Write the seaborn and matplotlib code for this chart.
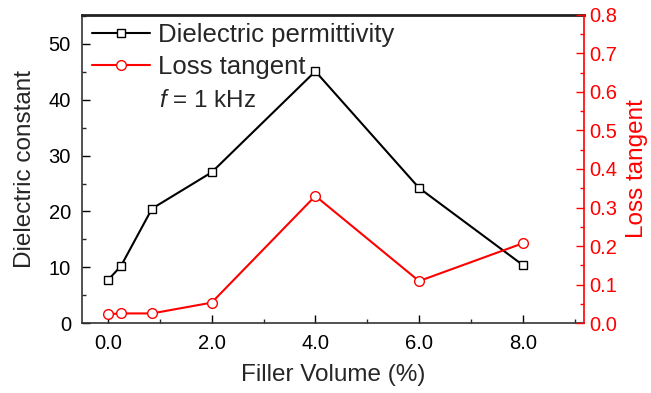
import matplotlib
matplotlib.use("Agg")
import matplotlib.pyplot as plt
import seaborn as sns
import pandas as pd
from matplotlib.ticker import MultipleLocator

filler = [0.0, 0.25, 0.85, 2.0, 4.0, 6.0, 8.0]
dielectric = [7.7, 10.2, 20.5, 27.0, 45.1, 24.2, 10.4]
loss = [0.023, 0.025, 0.025, 0.053, 0.330, 0.109, 0.207]

df = pd.DataFrame({"filler": filler, "dielectric": dielectric, "loss": loss})

sns.set_theme(style="ticks")
plt.rcParams["font.family"] = ["Liberation Sans", "DejaVu Sans"]
plt.rcParams["mathtext.fontset"] = "custom"
plt.rcParams["mathtext.it"] = "Liberation Sans:italic"
plt.rcParams["mathtext.rm"] = "Liberation Sans"

fig, ax = plt.subplots(figsize=(6.51, 3.93), dpi=100)
fig.subplots_adjust(left=0.126, right=0.897, top=0.962, bottom=0.178)
ax2 = ax.twinx()

sns.lineplot(data=df, x="filler", y="dielectric", ax=ax, color="black",
             marker="s", markersize=6, markerfacecolor="white",
             markeredgecolor="black", markeredgewidth=1.0, linewidth=1.5,
             label="Dielectric permittivity", legend=False)
sns.lineplot(data=df, x="filler", y="loss", ax=ax2, color="red",
             marker="o", markersize=7, markerfacecolor="white",
             markeredgecolor="red", markeredgewidth=1.0, linewidth=1.5,
             label="Loss tangent", legend=False)

ax.set_xlim(-0.5, 9.18)
ax.set_ylim(0, 55.2)
ax2.set_ylim(0, 0.8)

ax.xaxis.set_major_locator(MultipleLocator(2))
ax.xaxis.set_minor_locator(MultipleLocator(1))
ax.yaxis.set_major_locator(MultipleLocator(10))
ax.yaxis.set_minor_locator(MultipleLocator(5))
ax2.yaxis.set_major_locator(MultipleLocator(0.1))
ax2.yaxis.set_minor_locator(MultipleLocator(0.05))
ax.set_xticks([0, 2, 4, 6, 8])
ax.set_xticklabels(["0.0", "2.0", "4.0", "6.0", "8.0"])

ax.tick_params(axis="both", which="major", direction="in", length=6, width=1,
               labelsize=14.5, colors="black")
ax.tick_params(axis="y", which="major", pad=8)
ax.tick_params(axis="x", which="major", pad=8)
ax.tick_params(axis="both", which="minor", direction="in", length=3, width=1)
ax.tick_params(axis="x", which="both", top=False)
ax2.tick_params(axis="y", which="major", direction="in", length=6, width=1,
                labelsize=14.5, colors="red", pad=4)
ax2.tick_params(axis="y", which="minor", direction="in", length=3, width=1,
                colors="red")

for s in ["left", "bottom"]:
    ax.spines[s].set_color("#333333")
    ax.spines[s].set_linewidth(1.2)
ax.spines["right"].set_visible(False)
ax.spines["top"].set_visible(True)
ax.spines["top"].set_color("#222222")
ax.spines["top"].set_linewidth(2.0)
ax2.spines["right"].set_color("red")
ax2.spines["right"].set_linewidth(1.2)
for s in ["left", "bottom", "top"]:
    ax2.spines[s].set_visible(False)

ax.set_xlabel("Filler Volume (%)", fontsize=17.5, labelpad=8)
ax.set_ylabel("Dielectric constant", fontsize=17.5, labelpad=9)
ax2.set_ylabel("Loss tangent", fontsize=17.5, color="red", labelpad=6)

h1, l1 = ax.get_legend_handles_labels()
h2, l2 = ax2.get_legend_handles_labels()
leg = ax.legend(h1 + h2, l1 + l2, loc="upper left", frameon=False,
                fontsize=18.5, handlelength=2.25, handletextpad=0.3,
                labelspacing=0.33, borderaxespad=0.0, borderpad=0.0,
                bbox_to_anchor=(0.02, 0.975))
ax.text(0.153, 0.72, r"$f$ = 1 kHz", transform=ax.transAxes, fontsize=17.5,
        ha="left", va="center")

fig.savefig("out.png", dpi=100)
